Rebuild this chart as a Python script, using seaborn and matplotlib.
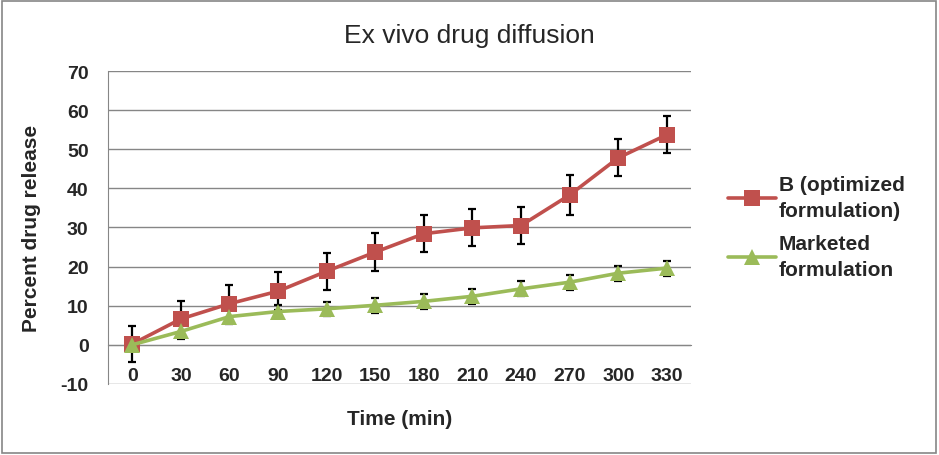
import numpy as np
import pandas as pd
import matplotlib.pyplot as plt
import seaborn as sns
from matplotlib.patches import Rectangle
from matplotlib.ticker import MultipleLocator

# Data
times = [0, 30, 60, 90, 120, 150, 180, 210, 240, 270, 300, 330]
optimized = [0.2, 6.6, 10.5, 13.7, 18.8, 23.7, 28.4, 29.9, 30.5, 38.3, 47.8, 53.7]
optimized_err = [4.6, 4.5, 4.7, 4.8, 4.7, 4.8, 4.7, 4.7, 4.8, 5.0, 4.7, 4.7]
marketed = [0.0, 3.4, 7.2, 8.5, 9.2, 10.1, 11.1, 12.4, 14.3, 16.0, 18.3, 19.6]
marketed_err = [1.0, 1.8, 1.8, 1.7, 1.8, 1.9, 1.9, 1.9, 1.9, 1.9, 1.9, 1.9]

series_names = ['B (optimized\nformulation)', 'Marketed\nformulation']
colors = {series_names[0]: '#C0504D', series_names[1]: '#9BBB59'}
markers = {series_names[0]: 's', series_names[1]: '^'}

idx = np.arange(len(times))
data = pd.DataFrame({
    'pos': np.concatenate([idx, idx]),
    'value': optimized + marketed,
    'err': optimized_err + marketed_err,
    'series': [series_names[0]] * len(times) + [series_names[1]] * len(times),
})

sns.set_style('white')
plt.rcParams['font.family'] = ['Liberation Sans', 'DejaVu Sans']
plt.rcParams['axes.unicode_minus'] = False

fig = plt.figure(figsize=(9.39, 4.56), dpi=100)
ax = fig.add_axes([0.115, 0.156, 0.621, 0.686])

grid_color = '#868686'

# Error bars first so the markers sit on top
for name, sub in data.groupby('series', sort=False):
    ax.errorbar(sub['pos'], sub['value'], yerr=sub['err'], fmt='none',
                ecolor='black', elinewidth=1.6, capsize=3, capthick=1.6, zorder=3)

sns.lineplot(
    data=data, x='pos', y='value', hue='series', style='series',
    palette=colors, markers=markers, dashes=False,
    linewidth=2.6, markersize=11, markeredgewidth=0,
    ax=ax, zorder=4
)

# Axes
ax.set_xlim(-0.5, len(times) - 0.5)
ax.set_ylim(-10, 70)
ax.yaxis.set_major_locator(MultipleLocator(10))
ax.grid(axis='y', color=grid_color, linewidth=1)
ax.set_axisbelow(True)

ax.spines['top'].set_visible(False)
ax.spines['right'].set_visible(False)
ax.spines['left'].set_color(grid_color)
ax.spines['bottom'].set_color(grid_color)
ax.spines['bottom'].set_position(('data', 0))

ax.set_xticks(idx)
ax.set_xticklabels([str(t) for t in times])
ax.set_xticks(np.arange(len(times) + 1) - 0.5, minor=True)
ax.tick_params(axis='x', which='major', length=0, pad=16, labelsize=14)
ax.tick_params(axis='x', which='minor', length=5, direction='out', color=grid_color)
ax.tick_params(axis='y', length=5, direction='out', color=grid_color, labelsize=14, pad=9)
for lbl in ax.get_xticklabels() + ax.get_yticklabels():
    lbl.set_fontweight('bold')

ax.set_xlabel('')
ax.set_ylabel('')
fig.text(0.426, 0.08, 'Time (min)', ha='center', va='center', fontsize=15, fontweight='bold')
fig.text(0.034, 0.5, 'Percent drug release', ha='center', va='center', rotation=90,
         fontsize=15, fontweight='bold')
fig.text(0.5, 0.922, 'Ex vivo drug diffusion', ha='center', va='center', fontsize=19)

leg = ax.legend(loc='center left', bbox_to_anchor=(0.755, 0.50), bbox_transform=fig.transFigure,
                frameon=False, fontsize=15, handlelength=2.3, handletextpad=0.15,
                labelspacing=0.7, title=None)
for t in leg.get_texts():
    t.set_fontweight('bold')
    t.set_linespacing(1.45)

fig.patches.append(Rectangle((0.002, 0.004), 0.995, 0.992, transform=fig.transFigure,
                             fill=False, edgecolor='#868686', linewidth=1.2))

fig.savefig('out.png', dpi=100)
